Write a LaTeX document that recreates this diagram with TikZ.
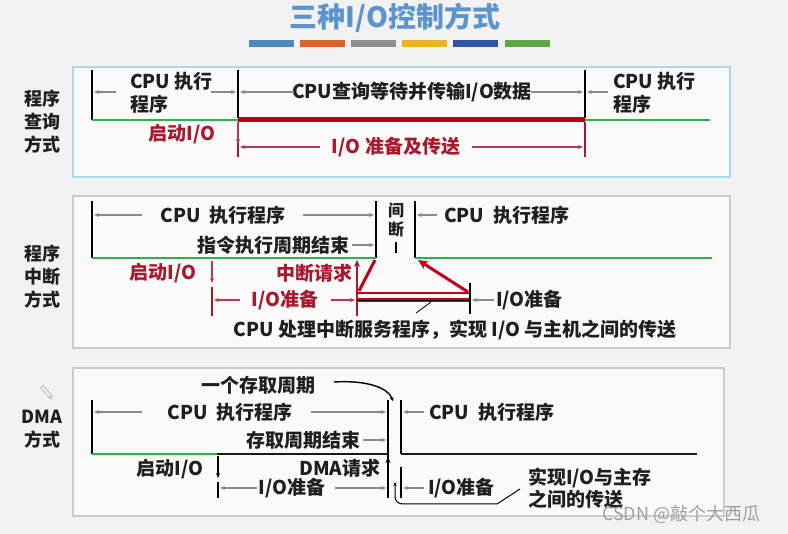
\documentclass[tikz,border=0pt]{standalone}
\usepackage{fontspec}
\setmainfont{Noto Sans CJK SC}
\usetikzlibrary{arrows.meta}
\definecolor{bg}{HTML}{F2F2F2}
\definecolor{ttl}{HTML}{5B94CF}
\definecolor{dred}{HTML}{A8192E}
\definecolor{rline}{HTML}{C00018}
\definecolor{gline}{HTML}{2DB34A}
\definecolor{dimc}{HTML}{8A8A8A}
\definecolor{cyanb}{HTML}{A6DCEB}
\definecolor{grayb}{HTML}{C9CDD0}
\definecolor{barA}{HTML}{4F86BF}
\definecolor{barB}{HTML}{D9622B}
\definecolor{barC}{HTML}{8E8E8E}
\definecolor{barD}{HTML}{EDB31A}
\definecolor{barE}{HTML}{2F55A4}
\definecolor{barF}{HTML}{5CA845}
\tikzset{
  lbl/.style={font=\fontsize{19}{23}\selectfont\bfseries, inner sep=0pt, text=black!88},
  rlbl/.style={lbl, text=dred},
  side/.style={font=\fontsize{18}{23}\selectfont\bfseries, inner sep=0pt, align=center, text=black!88},
  tip/.style={-{Stealth[length=5pt,width=4pt]}},
  dimarr/.style={draw=dimc, line width=1.1pt, tip},
  rdim/.style={draw=dred!85, line width=1.1pt, tip},
  vtick/.style={draw=black, line width=1.4pt},
  rtick/.style={draw=dred, line width=1.4pt},
  gl/.style={draw=gline, line width=2.6pt},
  bl/.style={draw=black!90, line width=2.6pt},
  panelc/.style={draw=cyanb, line width=1.6pt, fill=white!60!bg},
  panelg/.style={draw=grayb, line width=1.4pt, fill=white!60!bg},
  colbar/.style={inner sep=0pt, minimum width=45pt, minimum height=7pt},
}
\begin{document}
\begin{tikzpicture}[x=1pt,y=-1pt]
\fill[bg] (0,0) rectangle (788,534);
\useasboundingbox (0,0) rectangle (788,534);

% title
\node[font=\fontsize{28}{30}\selectfont\bfseries, text=ttl, inner sep=0pt] (title) at (395,18) {三种I/O控制方式};
\node[colbar, fill=barA] (bar1) at (271.5,44) {};
\node[colbar, fill=barB] (bar2) at (322,44) {};
\node[colbar, fill=barC] (bar3) at (373.5,44) {};
\node[colbar, fill=barD] (bar4) at (424.5,44) {};
\node[colbar, fill=barE] (bar5) at (475.5,44) {};
\node[colbar, fill=barF] (bar6) at (527.5,44) {};

% side labels
\node[side] (s1) at (42,122) {程序\\查询\\方式};
\node[side] (s2) at (42,277) {程序\\中断\\方式};
\node[side] (s3) at (42,429) {DMA\\方式};
\draw[gray!55, line width=0.8pt, rotate around={-50:(46,391)}] (40,389.5) rectangle (53,393) (53,389.5) -- (56,391.25) -- (53,393);

% ===== panel 1 =====
\draw[panelc] (73,67) rectangle (730,177);
\draw[vtick] (92,70) -- (92,120);
\draw[vtick] (238,70) -- (238,118);
\draw[vtick] (585,70) -- (585,118);
\draw[gl] (92,120) -- (238,120);
\draw[draw=rline, line width=5pt] (238,119.5) -- (585,119.5);
\draw[gl] (585,120) -- (710,120);
\draw[rtick] (238,122) -- (238,157);
\draw[rtick] (585,122) -- (585,157);
\node[lbl, anchor=west] (a1) at (130,81) {CPU 执行};
\node[lbl, anchor=west] (a2) at (130,104) {程序};
\draw[dimarr] (116,92) -- (94,92);
\draw[dimarr] (211,92) -- (236,92);
\node[lbl] (a3) at (412,92) {CPU查询等待并传输I/O数据};
\draw[dimarr] (294,92) -- (240,92);
\draw[dimarr] (531,92) -- (583,92);
\node[lbl, anchor=west] (a4) at (613,81) {CPU 执行};
\node[lbl, anchor=west] (a5) at (613,104) {程序};
\draw[dimarr] (608,92) -- (587,92);
\node[rlbl] (a6) at (182,134) {启动I/O};
\draw[rdim] (238,122) -- (238,144);
\node[rlbl] (a7) at (396,147) {I/O 准备及传送};
\draw[rdim] (320,147) -- (240,147);
\draw[rdim] (472,147) -- (583,147);

% ===== panel 2 =====
\draw[panelg] (73,196) rectangle (730,348);
\draw[vtick] (92,201) -- (92,258);
\draw[vtick] (376,201) -- (376,258);
\draw[vtick] (415,201) -- (415,258);
\draw[gl] (92,258) -- (376,258);
\draw[gl] (415,258) -- (712,258);
\node[lbl] (b1) at (223,215) {CPU\ \ 执行程序};
\draw[dimarr] (142,215) -- (94,215);
\draw[dimarr] (303,215) -- (374,215);
\node[lbl, font=\fontsize{16}{18}\selectfont\bfseries] (b2) at (396,210) {间};
\node[lbl, font=\fontsize{16}{18}\selectfont\bfseries] (b3) at (396,229) {断};
\draw[draw=black, line width=1.1pt] (396,242) -- (396,253);
\node[lbl, anchor=west] (b4) at (444,215) {CPU\ \ 执行程序};
\draw[dimarr] (437,215) -- (417,215);
\node[lbl, anchor=east] (b5) at (350,245) {指令执行周期结束};
\draw[dimarr] (352,245) -- (374,245);
\node[rlbl] (b6) at (163,273) {启动I/O};
\draw[rdim] (212,261) -- (212,283);
\draw[rtick] (212,287) -- (212,316);
\node[rlbl] (b7) at (314,273) {中断请求};
\draw[draw=dred, line width=2pt, -{Stealth[length=7pt,width=6pt]}] (357,316) -- (357,260);
\draw[draw=rline, line width=3pt] (375,260) -- (359,291);
\draw[draw=rline, line width=2.5pt] (357,293) -- (470,293);
\draw[draw=rline, line width=3.2pt] (357,300) -- (470,300);
\draw[draw=black, line width=0.8pt] (357,300) -- (470,300);
\draw[draw=rline, line width=3pt, -{Stealth[length=10pt,width=9pt]}] (468,292) -- (418,260);
\draw[vtick] (470,283) -- (470,314);
\node[rlbl] (b8) at (285,300) {I/O准备};
\draw[rdim] (240,300) -- (214,300);
\draw[rdim] (331,300) -- (355,300);
\node[lbl, anchor=west] (b9) at (496,300) {I/O准备};
\draw[dimarr] (494,300) -- (472,300);
\draw[draw=black, line width=0.8pt] (431,302) -- (416,313);
\node[lbl] (b10) at (455,330) {CPU 处理中断服务程序，实现 I/O 与主机之间的传送};

% ===== panel 3 =====
\draw[panelg] (73,368) rectangle (724,516);
\node[lbl] (c1) at (258,385) {一个存取周期};
\draw[draw=black, line width=1.4pt, -{Stealth[length=4pt,width=4pt]}] (334,382) .. controls (368,380) and (388,388) .. (393,401);
\draw[vtick] (92,400) -- (92,454);
\draw[vtick] (388,400) -- (388,498);
\draw[vtick] (401,400) -- (401,454);
\draw[gl] (92,454) -- (218,454);
\draw[bl] (217,454) -- (388,454);
\draw[bl] (401,454) -- (697,454);
\node[lbl] (c2) at (230,412) {CPU\ \ 执行程序};
\draw[dimarr] (142,412) -- (94,412);
\draw[dimarr] (311,412) -- (386,412);
\node[lbl, anchor=west] (c3) at (429,412) {CPU\ \ 执行程序};
\draw[dimarr] (424,412) -- (403,412);
\node[lbl, anchor=east] (c4) at (361,440) {存取周期结束};
\draw[dimarr] (363,440) -- (386,440);
\node[lbl] (c5) at (170,469) {启动I/O};
\draw[draw=black, line width=1.4pt, tip] (218,456) -- (218,478);
\draw[vtick] (218,482) -- (218,498);
\node[lbl] (c6) at (340,468) {DMA请求};
\draw[draw=black, line width=2pt, -{Stealth[length=6pt,width=5pt]}] (388,484) -- (388,457);
\node[lbl] (c7) at (292,488) {I/O准备};
\draw[dimarr] (257,488) -- (220,488);
\draw[dimarr] (335,488) -- (386,488);
\draw[vtick] (401,467) -- (401,498);
\node[lbl, anchor=west] (c8) at (428,488) {I/O准备};
\draw[dimarr] (424,488) -- (403,488);
\draw[draw=black, line width=1pt, {Stealth[length=4pt,width=3.5pt]}-] (395,482) -- (395,497) to[out=-90,in=180] (403,504) -- (497,504) -- (520,489);
\node[lbl, anchor=west] (c9) at (528,478) {实现I/O与主存};
\node[lbl, anchor=west] (c10) at (528,499) {之间的传送};

% watermark
\node[font=\fontsize{18}{20}\selectfont, text=gray!75, inner sep=0pt, anchor=west] (wm) at (602,514) {CSDN @敲个大西瓜};
\end{tikzpicture}
\end{document}
